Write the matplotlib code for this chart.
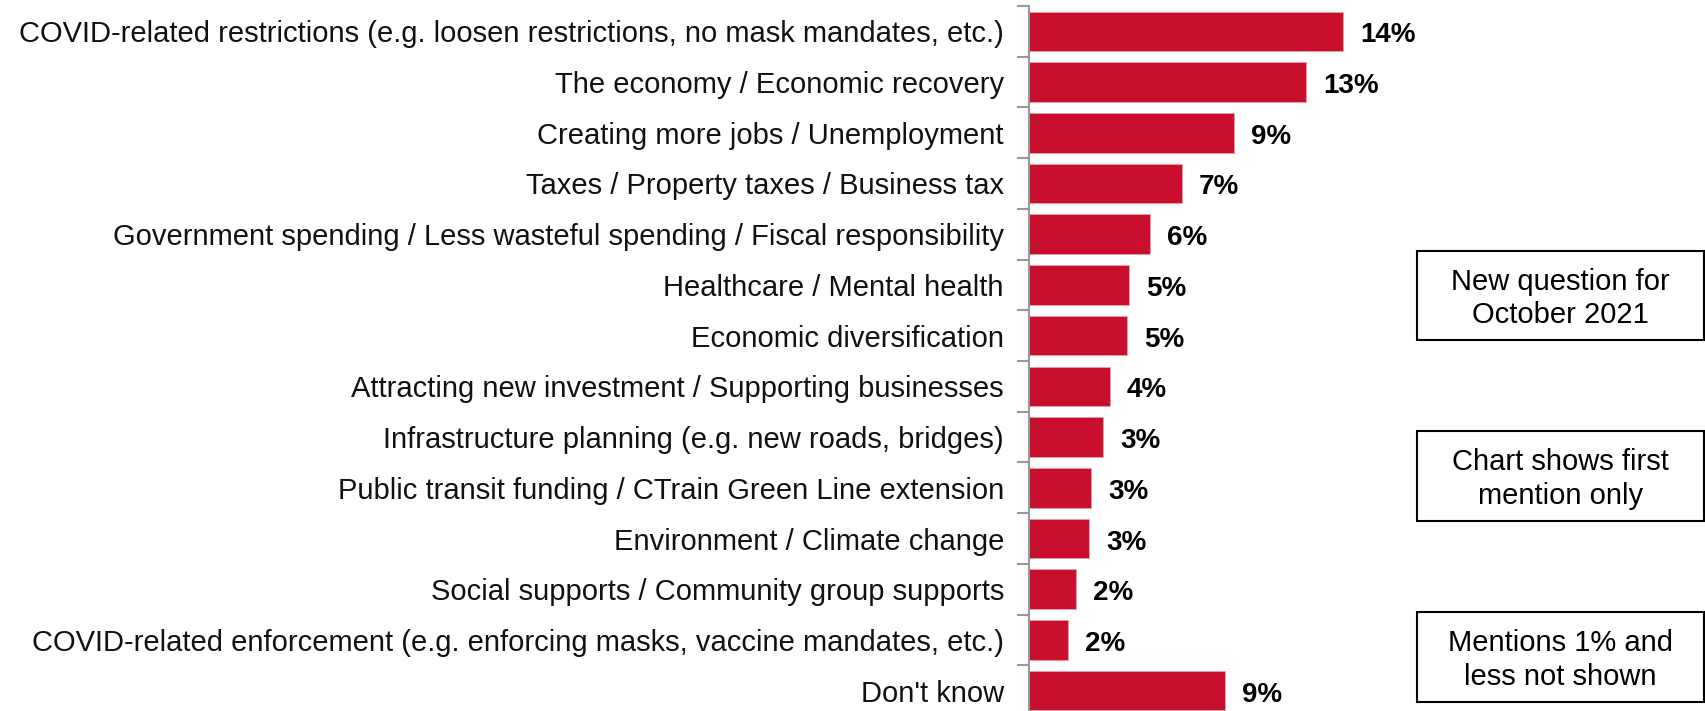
import matplotlib.pyplot as plt
from matplotlib.patches import Rectangle

plt.rcParams['font.family'] = ['Liberation Sans', 'DejaVu Sans']

# Data
categories = [
    "COVID-related restrictions (e.g. loosen restrictions, no mask mandates, etc.)",
    "The economy / Economic recovery",
    "Creating more jobs / Unemployment",
    "Taxes / Property taxes / Business tax",
    "Government spending / Less wasteful spending / Fiscal responsibility",
    "Healthcare / Mental health",
    "Economic diversification",
    "Attracting new investment / Supporting businesses",
    "Infrastructure planning (e.g. new roads, bridges)",
    "Public transit funding / CTrain Green Line extension",
    "Environment / Climate change",
    "Social supports / Community group supports",
    "COVID-related enforcement (e.g. enforcing masks, vaccine mandates, etc.)",
    "Don't know",
]
values = [14.4, 12.7, 9.4, 7.0, 5.55, 4.6, 4.5, 3.7, 3.4, 2.85, 2.75, 2.15, 1.8, 9.0]
value_labels = ["14%", "13%", "9%", "7%", "6%", "5%", "5%", "4%", "3%", "3%", "3%", "2%", "2%", "9%"]
notes = ["New question for\nOctober 2021",
         "Chart shows first\nmention only",
         "Mentions 1% and\nless not shown"]

W, H = 1706, 711
fig = plt.figure(figsize=(W / 100, H / 100), dpi=100)

# axes placed in pixel terms
ax_left, ax_top, ax_bottom = 1029, 6, 716
px_per_unit = 21.8
xmax = 20
ax = fig.add_axes([ax_left / W, 1 - ax_bottom / H,
                   xmax * px_per_unit / W, (ax_bottom - ax_top) / H])

y = list(range(len(categories)))
ax.barh(y, values, height=0.78, color="#C8102E", edgecolor="#E8A0A8", linewidth=0.6)
ax.set_ylim(len(categories) - 0.5, -0.5)
ax.set_xlim(0, xmax)

for yi, v, lab in zip(y, values, value_labels):
    ax.annotate(lab, (v, yi), xytext=(17, -4), textcoords="offset pixels",
                va="center", ha="left", fontsize=20, fontweight="bold", color="black")

ax.set_yticks(y)
ax.set_yticklabels(categories, fontsize=21, color="#111111")
ax.tick_params(axis="y", which="major", length=0, pad=18)
ax.set_yticks([i - 0.5 for i in range(len(categories) + 1)], minor=True)
ax.tick_params(axis="y", which="minor", length=9, width=1.5, color="#999999")
ax.set_xticks([])
for s in ["top", "right", "bottom"]:
    ax.spines[s].set_visible(False)
ax.spines["left"].set_color("#999999")
ax.spines["left"].set_linewidth(1.5)

# note boxes
box_x0, box_x1 = 1417, 1704
box_rows = [(251, 340), (431, 521), (612, 702)]
for (t, b), note in zip(box_rows, notes):
    fig.patches.append(Rectangle((box_x0 / W, 1 - b / H), (box_x1 - box_x0) / W, (b - t) / H,
                                 transform=fig.transFigure, fill=False,
                                 edgecolor="black", linewidth=1.5))
    fig.text((box_x0 + box_x1) / 2 / W, 1 - (t + b) / 2 / H - 0.004, note,
             ha="center", va="center", fontsize=21, linespacing=1.25, color="black")

fig.savefig("out.png", dpi=100)
